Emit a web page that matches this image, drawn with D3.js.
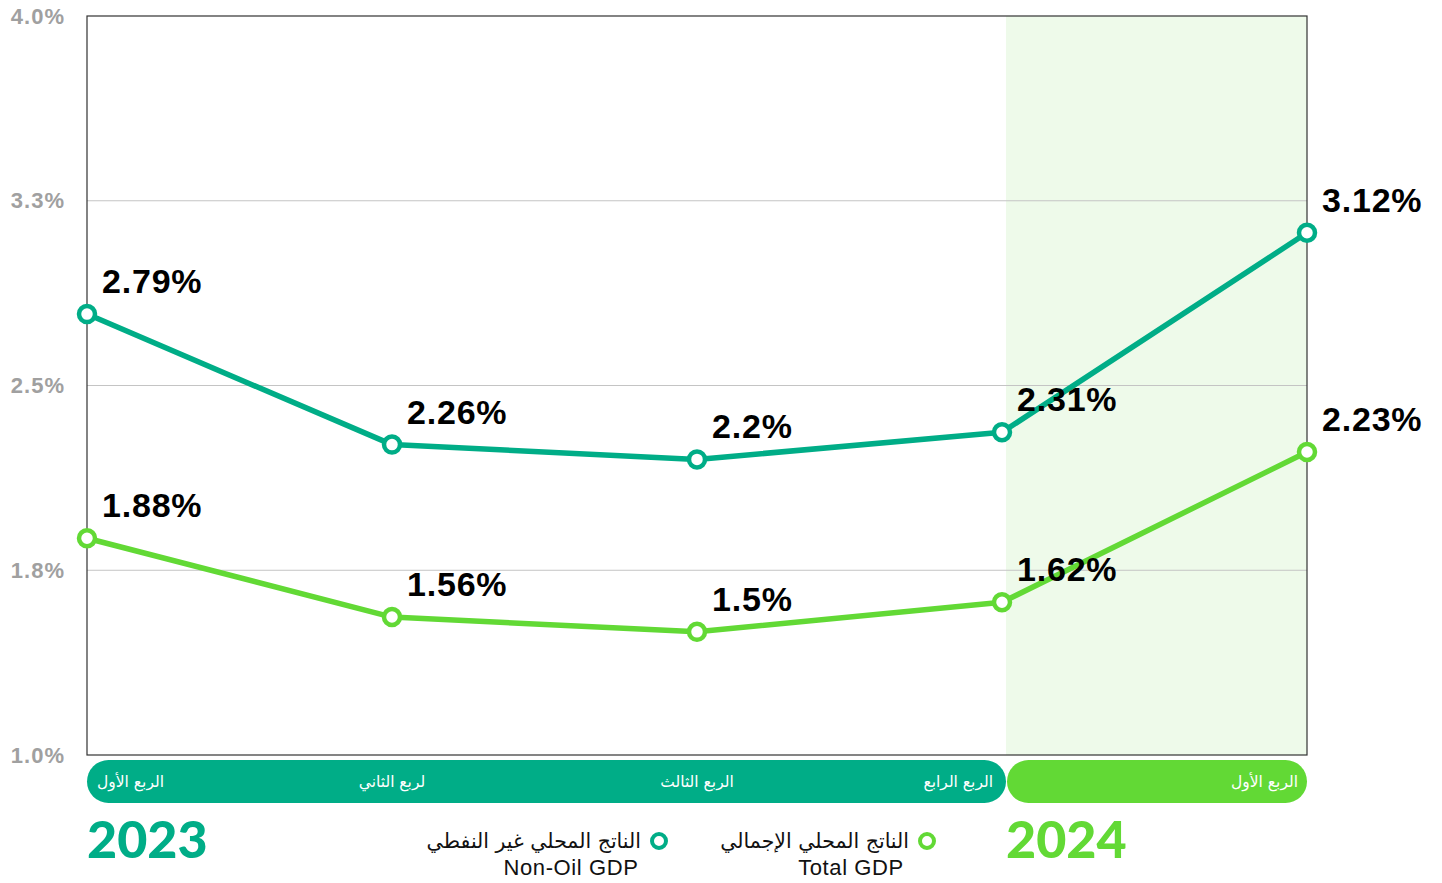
<!DOCTYPE html>
<html>
<head>
<meta charset="utf-8">
<script src="https://cdn.jsdelivr.net/npm/d3@7"></script>
<style>
  body { margin: 0; background: #fff; }
  svg { display: block; }
</style>
</head>
<body>
<div id="chart"></div>
<script>
// data
const quarters = ["الربع الأول", "لربع الثاني", "الربع الثالث", "الربع الرابع", "الربع الأول"];
const quarterYear = [2023, 2023, 2023, 2023, 2024];
const nonOil = [2.79, 2.26, 2.2, 2.31, 3.12];
const total = [1.88, 1.56, 1.5, 1.62, 2.23];
const yTicks = [1.0, 1.75, 2.5, 3.25, 4.0];
const years = [2023, 2024];

drawChart();

function drawChart() {
  const width = 1442, height = 883;
  const left = 87, right = 1307, top = 16, bottom = 755;
  const teal = "#00ad87", green = "#62d935";

  const svg = d3.select("#chart").append("svg")
    .attr("width", width)
    .attr("height", height);

  const idx = d3.range(quarters.length);
  const x = d3.scalePoint().domain(idx).range([left, right]).padding(0);
  const y = d3.scaleLinear().domain([1.0, 4.0]).range([bottom, top]);

  // 2024 shaded area
  const firstNew = quarterYear.indexOf(2024);
  const split = x(firstNew - 1) + 4;
  svg.append("rect")
    .attr("x", split)
    .attr("y", top)
    .attr("width", right - split)
    .attr("height", bottom - top)
    .attr("fill", "#eefaea");

  // grid
  svg.append("g").selectAll("line")
    .data(yTicks.slice(1, -1))
    .join("line")
    .attr("x1", left).attr("x2", right)
    .attr("y1", d => y(d)).attr("y2", d => y(d))
    .attr("stroke", "#c4c4c4").attr("stroke-width", 1);

  // frame
  svg.append("rect")
    .attr("x", left).attr("y", top)
    .attr("width", right - left).attr("height", bottom - top)
    .attr("fill", "none").attr("stroke", "#333").attr("stroke-width", 1.2);

  // y axis labels
  const yAxis = d3.axisLeft(y).tickValues(yTicks).tickFormat(d => d3.format(".1f")(d) + "%").tickSize(0).tickPadding(22);
  const ga = svg.append("g").attr("transform", `translate(${left},0)`).call(yAxis);
  ga.select(".domain").remove();
  ga.selectAll("text")
    .attr("fill", "#a0a0a0")
    .style("font-family", "'Liberation Sans', Arial, sans-serif")
    .style("font-weight", "bold")
    .style("font-size", "22px")
    .style("letter-spacing", "1px");

  // lines
  const series = [
    { values: nonOil, color: teal },
    { values: total, color: green }
  ];
  const line = d3.line().x((d, i) => x(i)).y(d => y(d));

  series.forEach(s => {
    svg.append("path")
      .attr("d", line(s.values))
      .attr("fill", "none")
      .attr("stroke", s.color)
      .attr("stroke-width", 5.5)
      .attr("stroke-linejoin", "round");

    svg.append("g").selectAll("circle")
      .data(s.values)
      .join("circle")
      .attr("cx", (d, i) => x(i))
      .attr("cy", d => y(d))
      .attr("r", 8)
      .attr("fill", "#fff")
      .attr("stroke", s.color)
      .attr("stroke-width", 4.5);

    svg.append("g").selectAll("text")
      .data(s.values)
      .join("text")
      .attr("x", (d, i) => x(i) + 15)
      .attr("y", d => y(d) - 21)
      .attr("fill", "#000")
      .style("font-family", "'Liberation Sans', Arial, sans-serif")
      .style("font-weight", "bold")
      .style("font-size", "34px")
      .style("letter-spacing", "0.8px")
      .text(d => d + "%");
  });

  // quarter pills
  const pillY = 760, pillH = 43;
  svg.append("rect")
    .attr("x", left).attr("y", pillY)
    .attr("width", split - left).attr("height", pillH)
    .attr("rx", pillH / 2)
    .attr("fill", teal);
  svg.append("rect")
    .attr("x", split + 1).attr("y", pillY)
    .attr("width", right - split - 1).attr("height", pillH)
    .attr("rx", pillH / 2)
    .attr("fill", green);

  const n = quarters.length;
  svg.append("g").selectAll("text")
    .data(quarters)
    .join("text")
    .attr("x", (d, i) => i === 0 ? x(i) + 10 : (i >= n - 2 ? x(i) - 9 : x(i)))
    .attr("y", pillY + pillH / 2 + 5)
    .attr("text-anchor", (d, i) => i === 0 ? "start" : (i >= n - 2 ? "end" : "middle"))
    .attr("fill", "#fff")
    .style("font-family", "'DejaVu Sans', sans-serif")
    .style("font-size", "15.5px")
    .text(d => d);

  // year labels
  svg.append("g").selectAll("text")
    .data(years)
    .join("text")
    .attr("x", d => d === 2023 ? left : split)
    .attr("y", 858)
    .attr("fill", d => d === 2023 ? teal : green)
    .style("font-family", "Lato, 'Liberation Sans', sans-serif")
    .style("font-weight", "900")
    .style("font-size", "52px")
    .text(d => d);

  // legend
  const legend = [
    { ar: "الناتج المحلي غير النفطي", en: "Non-Oil GDP", color: teal, cx: 659, enx: 571 },
    { ar: "الناتج المحلي الإجمالي", en: "Total GDP", color: green, cx: 927, enx: 851 }
  ];
  const lg = svg.append("g").selectAll("g").data(legend).join("g");
  lg.append("circle")
    .attr("cx", d => d.cx).attr("cy", 841).attr("r", 7)
    .attr("fill", "#fff").attr("stroke", d => d.color).attr("stroke-width", 4);
  lg.append("text")
    .attr("x", d => d.cx - 18).attr("y", 848)
    .attr("text-anchor", "end")
    .attr("fill", "#111")
    .style("font-family", "'DejaVu Sans', sans-serif")
    .style("font-size", "20.5px")
    .text(d => d.ar);
  lg.append("text")
    .attr("x", d => d.enx).attr("y", 875)
    .attr("text-anchor", "middle")
    .attr("fill", "#111")
    .style("font-family", "'Liberation Sans', Arial, sans-serif")
    .style("font-size", "22px")
    .style("letter-spacing", "0.6px")
    .text(d => d.en);
}
</script>
</body>
</html>
